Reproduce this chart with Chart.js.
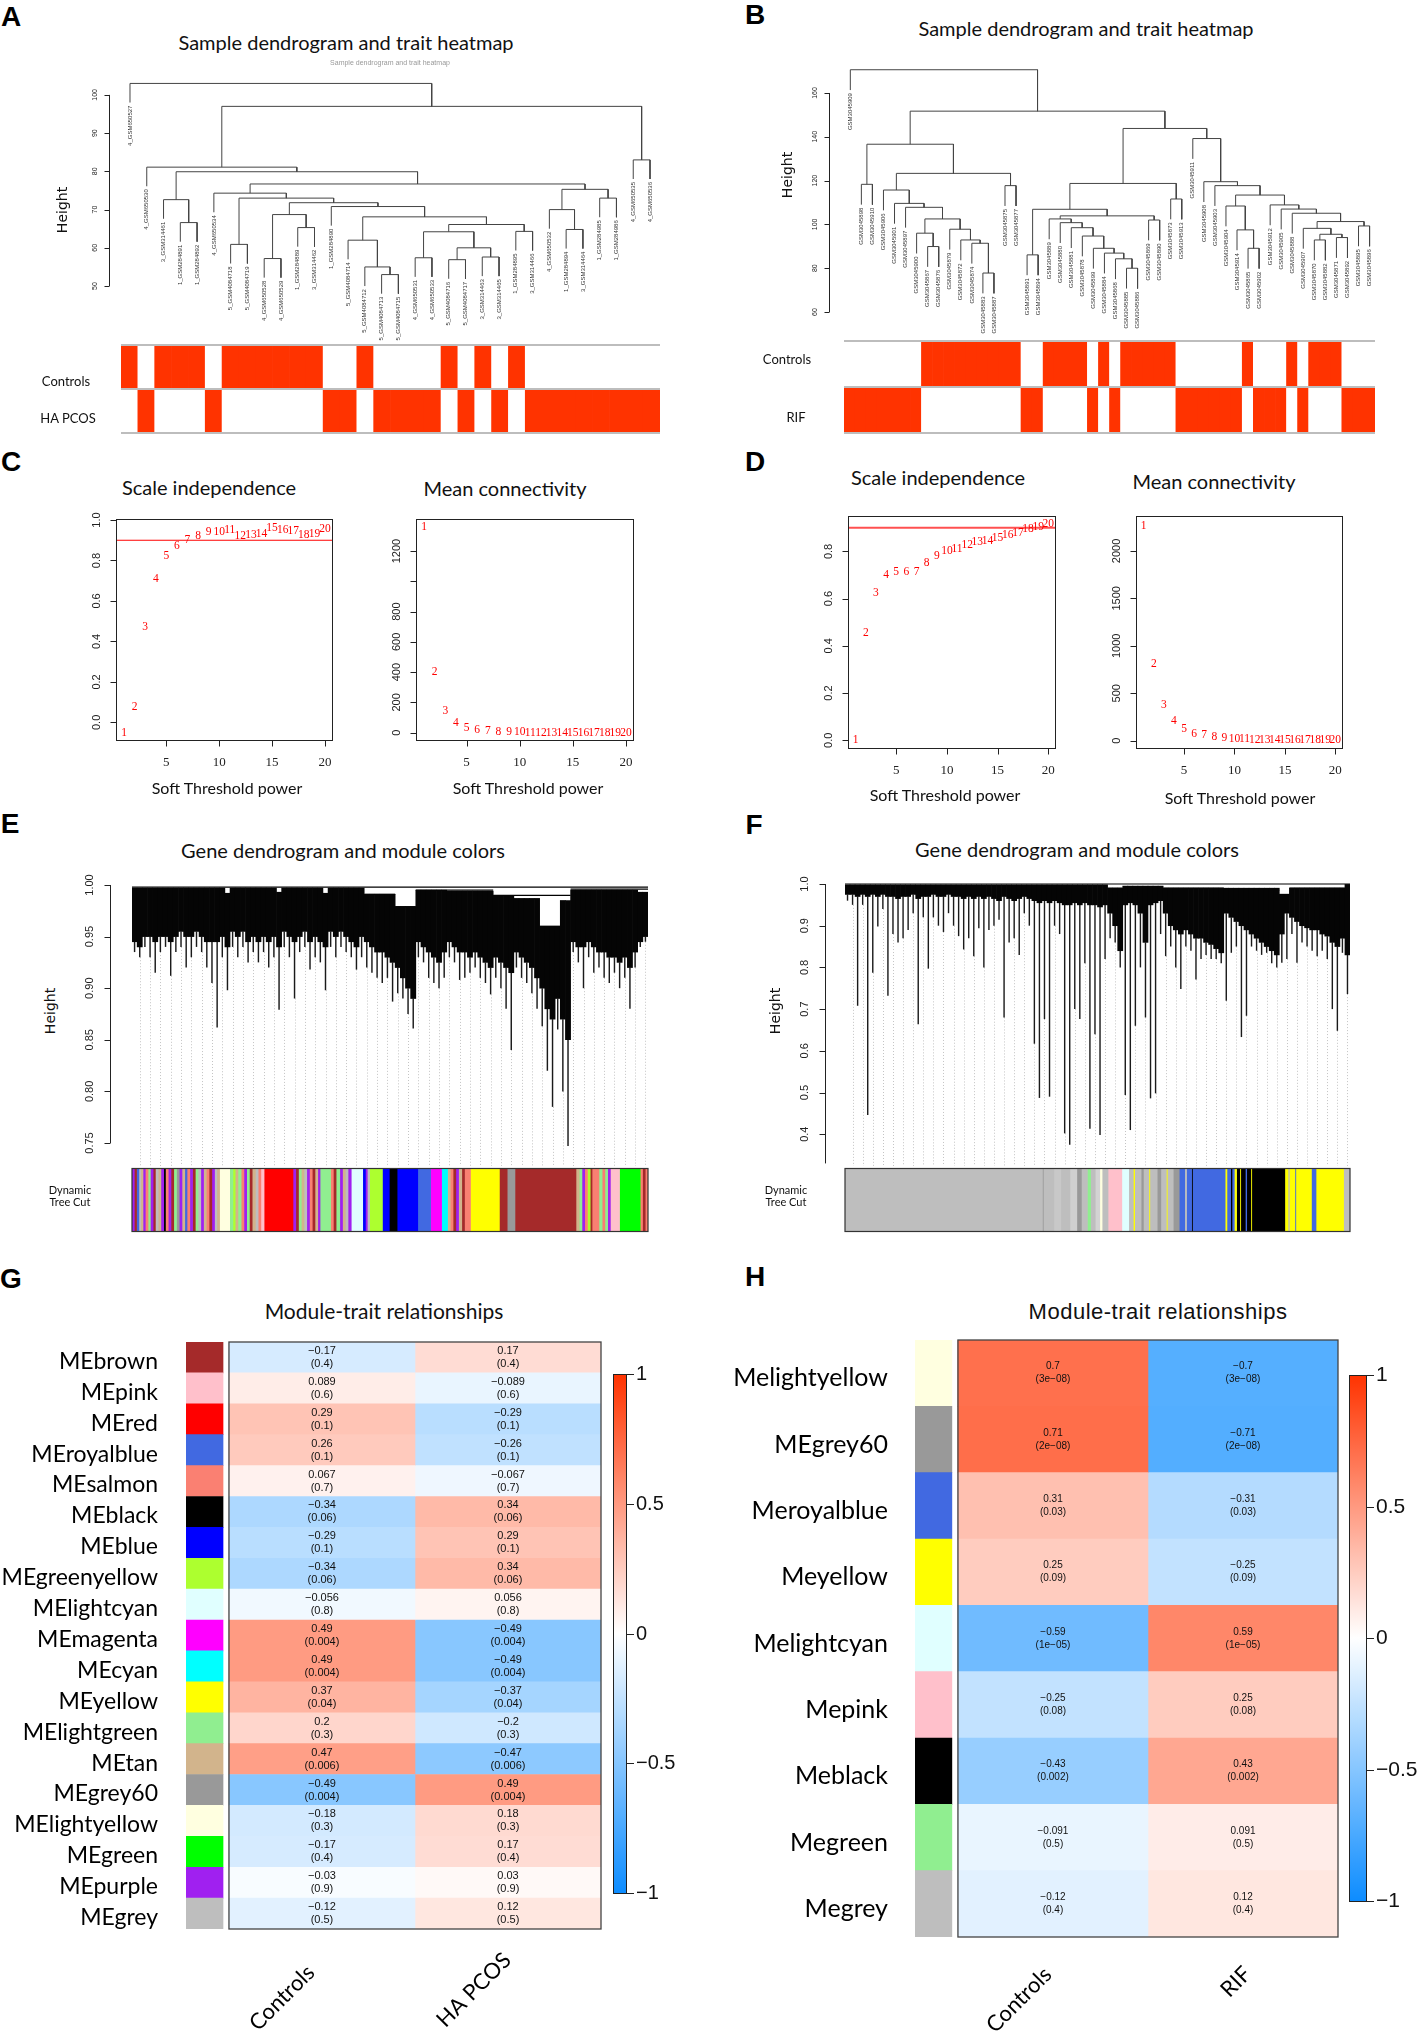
<!DOCTYPE html>
<html>
<head>
<meta charset="utf-8">
<script src="https://cdn.jsdelivr.net/npm/chart.js@4.4.1/dist/chart.umd.min.js"></script>
<style>
  body { margin: 0; background: #fff; }
  #page { position: relative; width: 1418px; height: 2037px; overflow: hidden; background: #fff; }
  #page canvas { position: absolute; }
  .t { position: absolute; white-space: nowrap; font-family: Lato, sans-serif; color: #111; line-height: 1.15; text-align: center; }
</style>
</head>
<body>
<div id="page"></div>
<script>
// ---------- A: sample tree (HA PCOS) ----------
const samplesA = ['4_GSM650527','4_GSM650530','3_GSM314461','1_GSM284891','1_GSM284892','4_GSM650534',
  '5_GSM4084718','5_GSM4084719','4_GSM650528','4_GSM650529','1_GSM284889','3_GSM314462','1_GSM284890',
  '5_GSM4084714','5_GSM4084712','5_GSM4084713','5_GSM4084715','4_GSM650531','4_GSM650533','5_GSM4084716',
  '5_GSM4084717','3_GSM314463','3_GSM314465','1_GSM284895','3_GSM314466','4_GSM650532','1_GSM284894',
  '3_GSM314464','1_GSM284985','1_GSM284986','4_GSM650535','4_GSM650536'];
// merges, R style: negative = leaf (1-based), positive = earlier merge
const mergeA = [[-16,-17],[-15,1],[-20,-21],[-9,-10],[-18,-19],[-22,-23],[3,6],[-7,-8],[-14,2],[5,7],
  [-24,-25],[-27,-28],[-11,-12],[10,11],[-4,-5],[9,14],[4,13],[-26,12],[-13,16],[17,19],
  [8,20],[-29,-30],[-3,15],[-6,21],[18,22],[24,25],[23,26],[-2,27],[-31,-32],[28,29],[-1,30]];
const heightA = [53.0,55.0,56.9,57.2,57.4,57.6,60.0,60.9,62.0,64.2,64.3,64.8,65.3,66.1,66.6,68.1,68.7,
  70.0,70.8,71.8,73.0,73.0,72.6,74.3,75.3,76.7,79.9,81.1,83.0,97.0,103.0];
const controlsA = [1,0,1,1,1,0,1,1,1,1,1,1,0,0,1,0,0,0,0,1,0,1,0,1,0,0,0,0,0,0,0,0];
const haPcosA   = [0,1,0,0,0,1,0,0,0,0,0,0,1,1,0,1,1,1,1,0,1,0,1,0,1,1,1,1,1,1,1,1];
const ticksA = [50,60,70,80,90,100];

// ---------- B: sample tree (RIF) ----------
const samplesB = ['GSM3045909','GSM3045898','GSM3045910','GSM3045906','GSM3045901','GSM3045897','GSM3045900',
  'GSM3045867','GSM3045876','GSM3045879','GSM3045872','GSM3045874','GSM3045883','GSM3045887','GSM3045875',
  'GSM3045877','GSM3045891','GSM3045894','GSM3045889','GSM3045880','GSM3045881','GSM3045878','GSM3045899',
  'GSM3045884','GSM3045868','GSM3045885','GSM3045886','GSM3045869','GSM3045890','GSM3045873','GSM3045913',
  'GSM3045911','GSM3045908','GSM3045903','GSM3045904','GSM3045914','GSM3045865','GSM3045902','GSM3045912',
  'GSM3045905','GSM3045888','GSM3045907','GSM3045870','GSM3045882','GSM3045871','GSM3045892','GSM3045895',
  'GSM3045896'];
const mergeB = [[-13,-14],[-12,1],[-11,2],[-10,3],[-8,-9],[-7,5],[6,4],[-6,7],[-5,8],[-4,9],
  [-15,-16],[10,11],[-2,-3],[13,12],[-17,-18],[-26,-27],[-25,16],[-24,17],[-23,18],[-22,19],
  [-21,20],[-20,21],[-19,22],[-28,-29],[23,24],[15,25],[-30,-31],[26,27],[-37,-38],[-36,29],
  [-35,30],[-43,-44],[-45,-46],[32,33],[-42,34],[-47,-48],[35,36],[-41,37],[-40,38],[-39,39],
  [31,40],[-34,41],[-33,42],[-32,43],[28,44],[14,45],[-1,46]];
const heightB = [77.8,91.4,92.9,97.8,89.9,96.0,102.5,107.8,109.6,115.7,117.7,123.3,118.3,136.6,
  86.1,80.0,84.3,86.9,89.1,94.7,98.5,100.8,102.5,102.0,103.9,106.9,111.6,118.7,89.1,97.5,
  108.4,92.9,94.0,95.5,98.2,99.3,101.3,105.1,107.0,108.9,113.4,117.7,119.5,139.2,143.8,151.7,170.6];
const controlsB = [0,0,0,0,0,0,0,1,1,1,1,1,1,1,1,1,0,0,1,1,1,1,0,1,0,1,1,1,1,1,0,0,0,0,0,0,1,0,0,0,1,0,1,1,1,0,0,0];
const rifB      = [1,1,1,1,1,1,1,0,0,0,0,0,0,0,0,0,1,1,0,0,0,0,1,0,1,0,0,0,0,0,1,1,1,1,1,1,0,1,1,1,0,1,0,0,0,1,1,1];
const ticksB = [60,80,100,120,140,160];

// ---------- C / D: soft threshold ----------
const powers = [1,2,3,4,5,6,7,8,9,10,11,12,13,14,15,16,17,18,19,20];
const sftC  = [-0.05,0.077,0.47,0.71,0.82,0.87,0.90,0.92,0.94,0.94,0.95,0.92,0.925,0.93,0.96,0.95,0.945,0.925,0.93,0.955];
const connC = [1357,399,145,62,33,15,9,4,2,1.5,1,0.8,0.6,0.5,0.4,0.3,0.2,0.2,0.1,0.1];
const sftD  = [0.0,0.455,0.624,0.70,0.714,0.714,0.711,0.75,0.782,0.80,0.81,0.828,0.84,0.845,0.855,0.87,0.88,0.894,0.904,0.915];
const connD = [2267,810,379,203,126,74,63,39,28,18,14,11,8,6,5,4,3,3,2,2];
const powerTicks = [5,10,15,20];
const sftTicksC = [0,0.2,0.4,0.6,0.8,1.0];
const connTicksC = [0,200,400,600,800,1000,1200];
const sftTicksD = [0,0.2,0.4,0.6,0.8];
const connTicksD = [0,500,1000,1500,2000];

// ---------- E / F: gene trees, read as 100 columns (top, dense-mass bottom, deepest branch) ----------
const topE = [0.997,0.997,0.997,0.997,0.997,0.997,0.997,0.997,0.997,0.997,0.997,0.997,0.997,0.997,0.997,0.997,0.997,0.997,0.992,0.997,
  0.997,0.997,0.997,0.997,0.997,0.997,0.997,0.997,0.993,0.997,0.997,0.997,0.997,0.997,0.997,0.997,0.997,0.992,0.997,0.997,
  0.997,0.997,0.997,0.997,0.997,0.991,0.991,0.991,0.991,0.991,0.991,0.979,0.979,0.979,0.979,0.995,0.995,0.995,0.995,0.995,
  0.995,0.994,0.994,0.994,0.994,0.994,0.994,0.994,0.994,0.994,0.990,0.990,0.990,0.990,0.987,0.987,0.987,0.987,0.987,0.960,
  0.960,0.960,0.960,0.985,0.985,0.995,0.995,0.995,0.995,0.995,0.995,0.995,0.995,0.995,0.995,0.995,0.995,0.995,0.993,0.993];
const massE = [0.945,0.94,0.95,0.95,0.945,0.95,0.95,0.945,0.95,0.955,0.95,0.95,0.955,0.95,0.945,0.945,0.945,0.95,0.94,0.955,
  0.95,0.955,0.945,0.95,0.945,0.95,0.945,0.95,0.94,0.955,0.95,0.945,0.95,0.955,0.945,0.95,0.945,0.94,0.955,0.95,
  0.955,0.95,0.945,0.94,0.95,0.945,0.94,0.935,0.935,0.93,0.925,0.92,0.91,0.90,0.89,0.945,0.94,0.935,0.93,0.925,
  0.935,0.945,0.94,0.935,0.935,0.93,0.935,0.93,0.925,0.92,0.93,0.925,0.92,0.915,0.935,0.93,0.925,0.92,0.91,0.90,
  0.88,0.87,0.89,0.87,0.85,0.945,0.94,0.94,0.945,0.94,0.935,0.935,0.93,0.93,0.925,0.93,0.92,0.935,0.945,0.95];
const branchE = [0.935,0.93,0.94,0.93,0.915,0.935,0.94,0.912,0.935,0.94,0.92,0.93,0.94,0.935,0.92,0.905,0.862,0.93,0.898,0.94,
  0.93,0.94,0.925,0.935,0.925,0.935,0.92,0.93,0.879,0.94,0.93,0.89,0.935,0.94,0.918,0.93,0.925,0.898,0.94,0.93,
  0.94,0.935,0.93,0.918,0.93,0.92,0.915,0.91,0.905,0.91,0.887,0.895,0.89,0.875,0.861,0.93,0.925,0.91,0.905,0.90,
  0.91,0.93,0.925,0.908,0.91,0.915,0.92,0.91,0.905,0.894,0.91,0.90,0.88,0.84,0.92,0.91,0.905,0.895,0.88,0.863,
  0.82,0.785,0.86,0.80,0.747,0.935,0.925,0.90,0.93,0.915,0.92,0.91,0.905,0.915,0.90,0.91,0.88,0.92,0.94,0.945];
const joinsE = [[-0.5,99.5,0.998],[44.5,50.5,0.991],[50.5,54.5,0.979],[54.5,69.5,0.995],[69.5,84.5,0.990],[78.5,82.5,0.960],[84.5,99.5,0.996]];
const ticksE = [0.75,0.80,0.85,0.90,0.95,1.00];

const topF = Array.prototype.concat(
  [0.998,0.998,0.998,0.998,0.998,0.998,0.998,0.998,0.998,0.998,0.998,0.998,0.998,0.998,0.998,0.998,0.998,0.998,0.998,0.998],
  [0.998,0.998,0.998,0.998,0.998,0.998,0.998,0.998,0.998,0.998,0.998,0.998,0.998,0.998,0.998,0.998,0.998,0.998,0.998,0.998],
  [0.998,0.998,0.998,0.998,0.998,0.998,0.998,0.998,0.998,0.998,0.998,0.998,0.990,0.990,0.990,0.995,0.995,0.995,0.995,0.995],
  [0.995,0.995,0.995,0.990,0.990,0.990,0.990,0.990,0.990,0.990,0.990,0.990,0.990,0.990,0.990,0.990,0.990,0.990,0.990,0.990],
  [0.990,0.990,0.990,0.990,0.990,0.990,0.975,0.975,0.990,0.990,0.990,0.990,0.990,0.990,0.990,0.990,0.990,0.990,0.990,0.999]);
const massF = [0.975,0.975,0.97,0.975,0.97,0.975,0.97,0.975,0.97,0.97,0.965,0.97,0.97,0.975,0.965,0.97,0.97,0.975,0.97,0.97,
  0.975,0.97,0.97,0.965,0.97,0.965,0.97,0.965,0.97,0.965,0.96,0.97,0.965,0.96,0.965,0.97,0.965,0.96,0.955,0.96,
  0.955,0.96,0.955,0.95,0.95,0.955,0.95,0.955,0.95,0.95,0.945,0.95,0.93,0.90,0.84,0.95,0.955,0.95,0.93,0.86,
  0.95,0.955,0.96,0.93,0.90,0.89,0.88,0.89,0.88,0.87,0.87,0.86,0.855,0.845,0.835,0.93,0.92,0.91,0.90,0.89,
  0.88,0.87,0.86,0.85,0.84,0.83,0.88,0.93,0.92,0.91,0.90,0.895,0.89,0.89,0.88,0.875,0.86,0.85,0.87,0.83];
const branchF = [0.96,0.95,0.708,0.95,0.446,0.787,0.898,0.94,0.732,0.88,0.86,0.87,0.89,0.93,0.664,0.92,0.797,0.92,0.90,0.885,
  0.93,0.90,0.875,0.843,0.87,0.827,0.894,0.80,0.89,0.90,0.914,0.68,0.86,0.87,0.83,0.93,0.90,0.617,0.487,0.676,
  0.49,0.90,0.88,0.402,0.375,0.70,0.676,0.81,0.413,0.64,0.398,0.82,0.87,0.86,0.80,0.494,0.41,0.66,0.80,0.68,
  0.486,0.498,0.88,0.827,0.85,0.80,0.748,0.85,0.84,0.771,0.82,0.83,0.82,0.82,0.81,0.72,0.835,0.85,0.633,0.684,
  0.85,0.84,0.83,0.835,0.81,0.80,0.811,0.82,0.88,0.811,0.86,0.85,0.84,0.827,0.84,0.82,0.70,0.648,0.835,0.736];
const joinsF = [[-0.5,99.5,1.0],[51.5,54.5,0.99],[62.5,74.5,0.99],[74.5,85.5,0.985],[85.5,87.5,0.975],[87.5,98.5,0.99],[94.5,97.5,0.95],[95.5,97.5,0.90]];
const ticksF = [0.4,0.5,0.6,0.7,0.8,0.9,1.0];

// module colour bars (segment start along the tree, module colour); spans 1125 and 1100 units
const cutStartE = [0,5,10,15,19,24,29,35,40,46,51,57,63,69,73,79,85,91,97,103,109,115,120,126,132,138,144,150,156,162,168,174,180,185,
  191,213,220,225,231,238,244,250,256,262,269,275,281,288,351,357,363,369,375,381,387,393,399,405,410,433,439,445,453,459,465,471,
  478,503,509,513,518,546,561,578,623,651,675,688,694,700,706,712,719,725,738,801,818,835,968,975,981,987,993,999,1003,1018,1025,
  1031,1037,1043,1063,1108,1113,1119];
const cutColE = ['purple','brown','royalblue','grey','tan','purple','salmon','lightgreen','purple','brown','grey','tan','purple','black',
  'salmon','purple','brown','lightgreen','grey60','purple','tan','royalblue','salmon','purple','brown','lightgreen','grey','purple','tan',
  'salmon','brown','purple','grey','tan','lightyellow','lightgreen','greenyellow','tan','lightgreen','salmon','purple','lightgreen',
  'brown','tan','grey','salmon','pink','red','purple','brown','lightgreen','tan','grey','purple','salmon','brown','tan','purple',
  'lightgreen','salmon','brown','lightgreen','purple','tan','grey','purple','lightcyan','blue','purple','grey','greenyellow','blue',
  'black','blue','royalblue','magenta','cyan','tan','salmon','brown','purple','tan','brown','salmon','yellow','brown','grey60','brown',
  'tan','lightgreen','purple','salmon','greenyellow','brown','salmon','lightgreen','salmon','lightgreen','purple','pink','green',
  'salmon','brown','salmon'];
const cutStartF = [0,430,432,455,470,490,505,515,528,535,545,555,560,573,603,618,628,631,645,650,662,664,680,688,700,702,715,
  728,740,744,755,757,828,832,840,843,848,853,860,862,872,875,884,886,958,965,968,980,982,1016,1026,1086];
const cutColF = ['grey','grey60','grey','#C8C8C8','grey','#D0D0D0','grey60','grey','lightgreen','grey','#D3D3D3','lightyellow','grey',
  'pink','lightcyan','grey','yellow','grey','grey60','grey','yellow','grey','grey60','grey','yellow','grey','grey60','royalblue',
  'grey','royalblue','black','royalblue','yellow','royalblue','black','royalblue','yellow','black','yellow','black','royalblue',
  'black','yellow','black','yellow','grey','yellow','royalblue','yellow','royalblue','yellow','grey'];

// ---------- G / H: module-trait relationships ----------
const modulesG = ['MEbrown','MEpink','MEred','MEroyalblue','MEsalmon','MEblack','MEblue','MEgreenyellow','MElightcyan',
  'MEmagenta','MEcyan','MEyellow','MElightgreen','MEtan','MEgrey60','MElightyellow','MEgreen','MEpurple','MEgrey'];
const moduleColG = ['brown','pink','red','royalblue','salmon','black','blue','greenyellow','lightcyan','magenta','cyan',
  'yellow','lightgreen','tan','grey60','lightyellow','green','purple','grey'];
const corControlsG = [-0.17,0.089,0.29,0.26,0.067,-0.34,-0.29,-0.34,-0.056,0.49,0.49,0.37,0.2,0.47,-0.49,-0.18,-0.17,-0.03,-0.12];
const corHaPcosG   = [0.17,-0.089,-0.29,-0.26,-0.067,0.34,0.29,0.34,0.056,-0.49,-0.49,-0.37,-0.2,-0.47,0.49,0.18,0.17,0.03,0.12];
const pG = [0.4,0.6,0.1,0.1,0.7,0.06,0.1,0.06,0.8,0.004,0.004,0.04,0.3,0.006,0.004,0.3,0.4,0.9,0.5];
const traitsG = ['Controls','HA PCOS'];

const modulesH = ['Melightyellow','MEgrey60','Meroyalblue','Meyellow','Melightcyan','Mepink','Meblack','Megreen','Megrey'];
const moduleColH = ['lightyellow','grey60','royalblue','yellow','lightcyan','pink','black','lightgreen','grey'];
const corControlsH = [0.7,0.71,0.31,0.25,-0.59,-0.25,-0.43,-0.091,-0.12];
const corRifH      = [-0.7,-0.71,-0.31,-0.25,0.59,0.25,0.43,0.091,0.12];
const pH = [3e-8,2e-8,0.03,0.09,1e-5,0.08,0.002,0.5,0.4];
const traitsH = ['Controls','RIF'];
const scaleTicks = [1,0.5,0,-0.5,-1];

// ================= helpers =================
const RCOL = {brown:'#A52A2A',pink:'#FFC0CB',red:'#FF0000',royalblue:'#4169E1',salmon:'#FA8072',black:'#000000',blue:'#0000FF',
  greenyellow:'#ADFF2F',lightcyan:'#E0FFFF',magenta:'#FF00FF',cyan:'#00FFFF',yellow:'#FFFF00',lightgreen:'#90EE90',tan:'#D2B48C',
  grey60:'#999999',lightyellow:'#FFFFE0',green:'#00FF00',purple:'#A020F0',grey:'#BEBEBE'};
const col = c => RCOL[c] || c;
const TRAIT_RED = '#FF3300';

function bwr(v) {
  let r, g, b;
  if (v >= 0) { r = 255; g = 255 * (1 - 0.8 * v); b = 255 * (1 - v); }
  else { const t = -v; r = 255 * (1 - 0.95 * t); g = 255 * (1 - 0.45 * t); b = 255; }
  return `rgb(${Math.round(r)},${Math.round(g)},${Math.round(b)})`;
}
const fmtR = v => (v < 0 ? '\u2212' + String(-v) : String(v));
function fmtP(p) {
  if (p >= 1e-4) return String(p);
  const [m, e] = p.toExponential(0).split('e');
  const n = Math.abs(parseInt(e, 10));
  return m + 'e' + (parseInt(e, 10) < 0 ? '\u2212' : '+') + (n < 10 ? '0' + n : n);
}

const page = document.getElementById('page');
function txt(s, x, y, css, rot) {
  const d = document.createElement('div');
  d.className = 't';
  d.innerHTML = s;
  d.style.cssText = css || '';
  d.style.left = x + 'px';
  d.style.top = y + 'px';
  d.style.transform = 'translate(-50%,-50%)' + (rot ? ' rotate(' + rot + 'deg)' : '');
  page.appendChild(d);
}

function mk(box, area, cfg) {
  const c = document.createElement('canvas');
  c.width = box.w; c.height = box.h;
  c.style.left = box.x + 'px'; c.style.top = box.y + 'px';
  c.style.width = box.w + 'px'; c.style.height = box.h + 'px';
  page.appendChild(c);
  const o = cfg.options = cfg.options || {};
  o.responsive = false; o.animation = false; o.events = []; o.devicePixelRatio = 1;
  o.layout = { padding: { left: area.l - box.x, top: area.t - box.y, right: box.x + box.w - area.r, bottom: box.y + box.h - area.b } };
  o.plugins = Object.assign({ legend: { display: false }, tooltip: { enabled: false } }, o.plugins || {});
  return new Chart(c, cfg);
}

// R style axes, frames and reference lines
const rAxes = {
  id: 'rAxes',
  afterDatasetsDraw(chart, args, o) {
    const ctx = chart.ctx, a = chart.chartArea;
    ctx.save();
    ctx.strokeStyle = '#222'; ctx.fillStyle = '#222'; ctx.lineWidth = 1;
    if (o.hline) {
      const y = chart.scales.y.getPixelForValue(o.hline.y);
      ctx.strokeStyle = o.hline.color; ctx.lineWidth = o.hline.width;
      ctx.beginPath(); ctx.moveTo(a.left, y); ctx.lineTo(a.right, y); ctx.stroke();
      ctx.strokeStyle = '#222'; ctx.lineWidth = 1;
    }
    if (o.frame) ctx.strokeRect(Math.round(a.left) + 0.5, Math.round(a.top) + 0.5, Math.round(a.right - a.left) - 1, Math.round(a.bottom - a.top) - 1);
    (o.axes || []).forEach(ax => {
      const left = ax.pos === 'left';
      const sc = chart.scales[left ? 'y' : 'x'];
      ctx.font = ax.font;
      ctx.textAlign = 'center'; ctx.textBaseline = 'middle';
      ctx.beginPath();
      if (left) {
        const x = Math.round(a.left - ax.off) + 0.5;
        if (ax.line) {
          ctx.moveTo(x, sc.getPixelForValue(ax.from !== undefined ? ax.from : ax.ticks[0]));
          ctx.lineTo(x, sc.getPixelForValue(ax.ticks[ax.ticks.length - 1]));
        }
        ax.ticks.forEach(t => { const y = Math.round(sc.getPixelForValue(t)) + 0.5; ctx.moveTo(x, y); ctx.lineTo(x - ax.len, y); });
        ctx.stroke();
        ax.ticks.forEach(t => {
          const lab = ax.fmt(t); if (!lab) return;
          ctx.save(); ctx.translate(x - ax.gap, sc.getPixelForValue(t)); ctx.rotate(-Math.PI / 2);
          ctx.fillText(lab, 0, 0); ctx.restore();
        });
      } else {
        const y = Math.round(a.bottom + ax.off) - 0.5;
        ax.ticks.forEach(t => { const x = Math.round(sc.getPixelForValue(t)) + 0.5; ctx.moveTo(x, y); ctx.lineTo(x, y + ax.len); });
        ctx.stroke();
        ax.ticks.forEach(t => ctx.fillText(ax.fmt(t), sc.getPixelForValue(t), y + ax.gap));
      }
    });
    ctx.restore();
  }
};

// labels hanging under dendrogram leaves
const leafLabels = {
  id: 'leafLabels',
  afterDatasetsDraw(chart, args, o) {
    if (!o.labels) return;
    const ctx = chart.ctx, xs = chart.scales.x, ys = chart.scales.y;
    ctx.save();
    ctx.font = o.font; ctx.fillStyle = '#333'; ctx.textAlign = 'right'; ctx.textBaseline = 'middle';
    o.labels.forEach((s, i) => {
      ctx.save();
      ctx.translate(xs.getPixelForValue(i), ys.getPixelForValue(o.ends[i]) + o.gap);
      ctx.rotate(-Math.PI / 2);
      ctx.fillText(s, 0, 0);
      ctx.restore();
    });
    ctx.restore();
  }
};

// red numbers at the points of the threshold plots
const pointText = {
  id: 'pointText',
  afterDatasetsDraw(chart, args, o) {
    if (!o.labels) return;
    const ctx = chart.ctx, meta = chart.getDatasetMeta(0);
    ctx.save();
    ctx.font = o.font; ctx.fillStyle = '#FF0000'; ctx.textAlign = 'center'; ctx.textBaseline = 'middle';
    meta.data.forEach((pt, i) => ctx.fillText(String(o.labels[i]), pt.x, pt.y));
    ctx.restore();
  }
};

// dotted guide lines under a gene tree + frame for colour rows
const guides = {
  id: 'guides',
  beforeDatasetsDraw(chart, args, o) {
    if (!o.from) return;
    const ctx = chart.ctx, a = chart.chartArea, xs = chart.scales.x, ys = chart.scales.y;
    ctx.save();
    ctx.strokeStyle = '#C4C4C4'; ctx.lineWidth = 1; ctx.setLineDash([1, 2]);
    ctx.beginPath();
    for (let i = 1; i < o.from.length; i += o.every) {
      const x = Math.round(xs.getPixelForValue(i)) + 0.5;
      ctx.moveTo(x, ys.getPixelForValue(o.from[i]));
      ctx.lineTo(x, a.bottom);
    }
    ctx.stroke();
    ctx.restore();
  }
};
const rowFrame = {
  id: 'rowFrame',
  afterDatasetsDraw(chart, args, o) {
    const ctx = chart.ctx, a = chart.chartArea;
    ctx.save();
    if (o.lines) {
      ctx.strokeStyle = o.color; ctx.lineWidth = o.width;
      o.lines.forEach(v => {
        const y = chart.scales.y.getPixelForValue(v);
        ctx.beginPath(); ctx.moveTo(a.left, y); ctx.lineTo(a.right, y); ctx.stroke();
      });
    }
    if (o.box) {
      ctx.strokeStyle = o.color; ctx.lineWidth = o.width;
      ctx.strokeRect(a.left, a.top + 0.5, a.right - a.left, a.bottom - a.top - 1);
    }
    ctx.restore();
  }
};

// heatmap texts, labels and colour key
const mtr = {
  id: 'mtr',
  afterDatasetsDraw(chart, args, o) {
    if (!o.rows) return;
    const ctx = chart.ctx, a = chart.chartArea, xs = chart.scales.x, ys = chart.scales.y;
    ctx.save();
    const x0 = xs.getPixelForValue(0), x2 = xs.getPixelForValue(2);
    ctx.strokeStyle = '#444'; ctx.lineWidth = 1.3;
    ctx.strokeRect(x0, a.top, x2 - x0, a.bottom - a.top);
    ctx.fillStyle = '#111'; ctx.font = o.cellFont; ctx.textAlign = 'center'; ctx.textBaseline = 'middle';
    o.rows.forEach((lab, i) => {
      const y = ys.getPixelForValue(i);
      o.cor.forEach((c, j) => {
        const cx = xs.getPixelForValue(j + 0.5);
        ctx.fillText(fmtR(c[i]), cx, y - o.dy);
        ctx.fillText('(' + fmtP(o.p[i]) + ')', cx, y + o.dy);
      });
    });
    ctx.fillStyle = '#000'; ctx.font = o.labFont; ctx.textAlign = 'right';
    o.rows.forEach((lab, i) => ctx.fillText(lab, a.left - o.labGap, ys.getPixelForValue(i) + o.labDy));
    ctx.font = o.colFont; ctx.textAlign = 'center';
    o.cols.forEach((c, j) => {
      ctx.save(); ctx.translate(o.colPos[j][0], o.colPos[j][1]); ctx.rotate(-Math.PI / 4);
      ctx.fillText(c, 0, 0); ctx.restore();
    });
    const cb = o.key;
    const g = ctx.createLinearGradient(0, cb.t, 0, cb.b);
    for (let k = 0; k <= 40; k++) g.addColorStop(k / 40, bwr(1 - k / 20));
    ctx.fillStyle = g; ctx.fillRect(cb.l, cb.t, cb.r - cb.l, cb.b - cb.t);
    ctx.strokeStyle = '#222'; ctx.lineWidth = 1;
    ctx.strokeRect(cb.l + 0.5, cb.t + 0.5, cb.r - cb.l, cb.b - cb.t);
    ctx.font = o.keyFont; ctx.fillStyle = '#111'; ctx.textAlign = 'left';
    o.keyTicks.forEach(v => {
      const y = Math.round(cb.t + (1 - v) / 2 * (cb.b - cb.t)) + 0.5;
      ctx.beginPath(); ctx.moveTo(cb.r, y); ctx.lineTo(cb.r + 8, y); ctx.stroke();
      ctx.fillText(fmtR(v), cb.r + 10, y);
    });
    ctx.restore();
  }
};
Chart.register(rAxes, leafLabels, pointText, guides, rowFrame, mtr);

// ================= A & B: sample dendrograms =================
function buildTree(merge, height) {
  const hang = 0.1 * (Math.max(...height) - Math.min(...height));
  const nodeX = [], ends = [], segs = [];
  merge.forEach((m, k) => {
    const h = height[k];
    const pts = m.map(c => {
      if (c < 0) { ends[-c - 1] = h - hang; return { x: -c - 1, y: h - hang }; }
      return { x: nodeX[c - 1], y: height[c - 1] };
    });
    nodeX[k] = (pts[0].x + pts[1].x) / 2;
    segs.push([pts[0], { x: pts[0].x, y: h }, { x: pts[1].x, y: h }, pts[1]]);
  });
  return { segs, ends };
}
function treeChart(box, area, labels, merge, height, ymin, ymax, ticks, axOff) {
  const tr = buildTree(merge, height);
  mk(box, area, {
    type: 'scatter',
    data: { datasets: tr.segs.map(s => ({ data: s, showLine: true, borderColor: '#444', borderWidth: 1, pointRadius: 0 })) },
    options: {
      scales: { x: { type: 'linear', display: false, min: -0.5, max: labels.length - 0.5 }, y: { display: false, min: ymin, max: ymax } },
      plugins: {
        leafLabels: { labels, ends: tr.ends, font: '6px "Liberation Sans"', gap: 3 },
        rAxes: { axes: [{ pos: 'left', ticks, off: axOff, len: 5, gap: 14, line: true, font: '7px "Liberation Sans"', fmt: String }] }
      }
    }
  });
}
function traitChart(box, area, labels, rowTop, rowBottom) {
  mk(box, area, {
    type: 'bar',
    data: {
      labels,
      datasets: [
        { data: rowTop.map(() => [1, 2]), backgroundColor: rowTop.map(v => v ? TRAIT_RED : '#fff'), barPercentage: 1, categoryPercentage: 1, grouped: false },
        { data: rowBottom.map(() => [0, 1]), backgroundColor: rowBottom.map(v => v ? TRAIT_RED : '#fff'), barPercentage: 1, categoryPercentage: 1, grouped: false }
      ]
    },
    options: {
      scales: { x: { display: false }, y: { display: false, min: 0, max: 2 } },
      plugins: { rowFrame: { lines: [0, 1, 2], color: '#BDBDBD', width: 2 } }
    }
  });
}
treeChart({ x: 60, y: 60, w: 630, h: 285 }, { l: 121.6, t: 71, r: 658.4, b: 309 }, samplesA, mergeA, heightA, 44, 106.25, ticksA, 12.6);
traitChart({ x: 110, y: 340, w: 560, h: 100 }, { l: 121, t: 345, r: 660, b: 433 }, samplesA, controlsA, haPcosA);
treeChart({ x: 780, y: 50, w: 620, h: 290 }, { l: 844.8, t: 62.3, r: 1375.1, b: 320.8 }, samplesB, mergeB, heightB, 56, 174, ticksB, 15.8);
traitChart({ x: 830, y: 335, w: 560, h: 105 }, { l: 844, t: 341, r: 1375, b: 433 }, samplesB, controlsB, rifB);

// ================= C & D: scale free fit and connectivity =================
function threshChart(box, area, ys, ymin, ymax, yticks, yfmt, hline) {
  mk(box, area, {
    type: 'scatter',
    data: { datasets: [{ data: powers.map((p, i) => ({ x: p, y: ys[i] })), pointRadius: 0 }] },
    options: {
      scales: { x: { type: 'linear', display: false, min: 0.24, max: 20.76 }, y: { display: false, min: ymin, max: ymax } },
      plugins: {
        pointText: { labels: powers, font: '11.5px "Liberation Sans Narrow"' },
        rAxes: {
          frame: true, hline,
          axes: [
            { pos: 'left', ticks: yticks, off: 0, len: 6, gap: 20, font: '11px "Liberation Sans"', fmt: yfmt },
            { pos: 'bottom', ticks: powerTicks, off: 0, len: 6, gap: 22, font: '13px "Liberation Sans Narrow"', fmt: String }
          ]
        }
      }
    }
  });
}
const f1 = v => v.toFixed(1);
threshChart({ x: 70, y: 500, w: 280, h: 285 }, { l: 116, t: 519, r: 333, b: 741 }, sftC, -0.092, 1.005, sftTicksC, f1, { y: 0.9, color: '#FF0000', width: 1.2 });
threshChart({ x: 370, y: 500, w: 280, h: 285 }, { l: 416, t: 519, r: 634, b: 741 }, connC, -55, 1412, connTicksC, v => (v === 1000 ? '' : String(v)));
threshChart({ x: 800, y: 500, w: 270, h: 290 }, { l: 848, t: 516, r: 1056, b: 749 }, sftD, -0.037, 0.95, sftTicksD, f1, { y: 0.9, color: '#FF5050', width: 2 });
threshChart({ x: 1090, y: 500, w: 270, h: 290 }, { l: 1136, t: 516, r: 1343, b: 749 }, connD, -88, 2368, connTicksD, String);

// ================= E & F: gene dendrograms with module colours =================
function geneTree(box, area, top, mass, branch, joins, ymin, ymax, ticks, axFrom, axOff, fmt) {
  mk(box, area, {
    type: 'bar',
    data: {
      datasets: [
        { data: mass.map((m, i) => ({ x: i, y: [m, top[i]] })), backgroundColor: '#050505', barPercentage: 1, categoryPercentage: 1, grouped: false },
        { data: branch.map((b, i) => ({ x: i, y: [b, mass[i]] })), backgroundColor: '#1a1a1a', barPercentage: 0.28, categoryPercentage: 1, grouped: false }
      ].concat(joins.map(j => ({ type: 'line', data: [{ x: j[0], y: j[2] }, { x: j[1], y: j[2] }], borderColor: '#000', borderWidth: 1.2, pointRadius: 0 })))
    },
    options: {
      scales: { x: { type: 'linear', display: false, offset: false, min: -0.5, max: mass.length - 0.5 }, y: { display: false, min: ymin, max: ymax } },
      plugins: {
        guides: { from: branch, every: 2 },
        rAxes: { axes: [{ pos: 'left', ticks, from: axFrom, off: axOff, len: 6, gap: 21, line: true, font: '11px "Liberation Sans"', fmt }] }
      }
    }
  });
}
function cutChart(box, area, starts, cols, span) {
  mk(box, area, {
    type: 'bar',
    data: {
      labels: ['Dynamic Tree Cut'],
      datasets: starts.map((s, i) => ({
        data: [[s, i + 1 < starts.length ? starts[i + 1] : span]], backgroundColor: col(cols[i]),
        barPercentage: 1, categoryPercentage: 1, grouped: false, borderWidth: 0
      }))
    },
    options: {
      indexAxis: 'y',
      scales: { x: { type: 'linear', display: false, min: 0, max: span }, y: { display: false } },
      plugins: { rowFrame: { box: true, color: '#333', width: 1.2 } }
    }
  });
}
geneTree({ x: 60, y: 870, w: 600, h: 300 }, { l: 132, t: 882, r: 648, b: 1166 }, topE, massE, branchE, joinsE, 0.7277, 1.0029, ticksE, undefined, 22, v => v.toFixed(2));
cutChart({ x: 120, y: 1160, w: 540, h: 80 }, { l: 132, t: 1168, r: 648, b: 1232 }, cutStartE, cutColE, 1125);
geneTree({ x: 770, y: 870, w: 600, h: 300 }, { l: 845, t: 882, r: 1350, b: 1166 }, topF, massF, branchF, joinsF, 0.3238, 1.0048, ticksF, 0.33, 20, v => v.toFixed(1));
cutChart({ x: 830, y: 1160, w: 540, h: 80 }, { l: 845, t: 1168, r: 1350, b: 1232 }, cutStartF, cutColF, 1100);

// ================= G & H: module-trait heatmaps =================
function heatChart(box, area, xmin, mods, modCols, corA, corB, p, traits, o) {
  const rel = pt => [pt[0] - box.x, pt[1] - box.y];
  mk(box, area, {
    type: 'bar',
    data: {
      labels: mods,
      datasets: [
        { data: mods.map(() => [xmin, -0.032]), backgroundColor: modCols.map(col), barPercentage: 1, categoryPercentage: 1, grouped: false },
        { data: corA.map(() => [0, 1]), backgroundColor: corA.map(bwr), barPercentage: 1, categoryPercentage: 1, grouped: false },
        { data: corB.map(() => [1, 2]), backgroundColor: corB.map(bwr), barPercentage: 1, categoryPercentage: 1, grouped: false }
      ]
    },
    options: {
      indexAxis: 'y',
      scales: { x: { type: 'linear', display: false, min: xmin, max: 2 }, y: { display: false } },
      plugins: {
        mtr: {
          rows: mods, cor: [corA, corB], p, cols: traits, colPos: o.colPos.map(rel),
          cellFont: o.cellFont, dy: o.dy, labFont: o.labFont, labGap: o.labGap, labDy: o.labDy, colFont: o.colFont,
          key: { l: o.key.l - box.x, r: o.key.r - box.x, t: o.key.t - box.y, b: o.key.b - box.y },
          keyTicks: scaleTicks, keyFont: o.keyFont
        }
      }
    }
  });
}
heatChart({ x: 0, y: 1330, w: 709, h: 707 }, { l: 186, t: 1342, r: 601, b: 1929 }, -0.231, modulesG, moduleColG, corControlsG, corHaPcosG, pG, traitsG, {
  cellFont: '11px "Liberation Sans"', dy: 6.5, labFont: '23px Lato', labGap: 28, labDy: 4, colFont: '22px Lato',
  colPos: [[282, 1998], [474, 1990]], key: { l: 613, r: 626, t: 1374, b: 1893 }, keyFont: '20px "Liberation Sans"'
});
heatChart({ x: 709, y: 1330, w: 709, h: 707 }, { l: 915, t: 1340, r: 1338, b: 1937 }, -0.226, modulesH, moduleColH, corControlsH, corRifH, pH, traitsH, {
  cellFont: '10px "Liberation Sans"', dy: 6.5, labFont: '25px Lato', labGap: 27, labDy: 5, colFont: '22px Lato',
  colPos: [[1019, 2000], [1236, 1982]], key: { l: 1349, r: 1366, t: 1375, b: 1901 }, keyFont: '21px "Liberation Sans"'
});

// ================= texts =================
const L = 'font-family:"Liberation Sans",Arial,sans-serif;font-weight:bold;font-size:28px;color:#000;';
[['A', 11, 17], ['B', 755, 15], ['C', 11, 462], ['D', 755, 462], ['E', 10, 824], ['F', 754, 825], ['G', 11, 1279], ['H', 755, 1277]]
  .forEach(t => txt(t[0], t[1], t[2], L));
const T20 = 'font-size:20px;color:#111;';
txt('Sample dendrogram and trait heatmap', 346, 42, T20);
txt('Sample dendrogram and trait heatmap', 390, 63, 'font-size:7px;color:#999;font-family:"Liberation Sans";');
txt('Sample dendrogram and trait heatmap', 1086, 28, T20);
const HT = 'font-family:"DejaVu Sans";font-size:14px;color:#111;';
txt('Height', 62, 210, HT, -90);
txt('Height', 787, 175, HT, -90);
txt('Height', 50, 1011, HT, -90);
txt('Height', 775, 1011, HT, -90);
const TL = 'font-size:13px;color:#111;';
txt('Controls', 66, 381, TL); txt('HA PCOS', 68, 418, TL);
txt('Controls', 787, 359, TL); txt('RIF', 796, 417, TL);
txt('Scale independence', 209, 487, T20); txt('Mean connectivity', 505, 488, T20);
txt('Scale independence', 938, 477, T20); txt('Mean connectivity', 1214, 481, T20);
const XT = 'font-size:16px;color:#111;';
txt('Soft Threshold power', 227, 788, XT); txt('Soft Threshold power', 528, 788, XT);
txt('Soft Threshold power', 945, 795, XT); txt('Soft Threshold power', 1240, 798, XT);
txt('Gene dendrogram and module colors', 343, 850, T20);
txt('Gene dendrogram and module colors', 1077, 849, T20);
const DT = 'font-size:11px;color:#111;line-height:1.05;';
txt('Dynamic<br>Tree Cut', 70, 1196, DT);
txt('Dynamic<br>Tree Cut', 786, 1196, DT);
txt('Module-trait relationships', 384, 1311, 'font-size:21px;color:#111;');
txt('Module-trait relationships', 1158, 1312, 'font-family:"Liberation Sans";font-size:22px;color:#111;letter-spacing:0.5px;');
</script>
</body>
</html>
